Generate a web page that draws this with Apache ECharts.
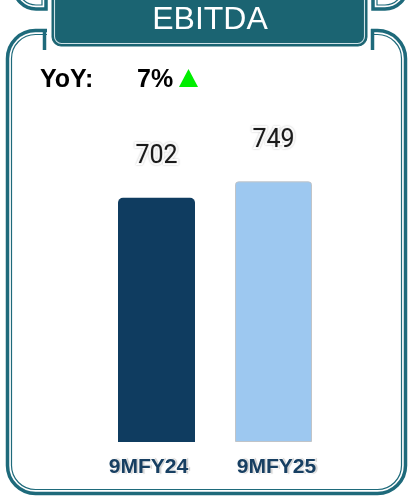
<!DOCTYPE html>
<html>
<head>
<meta charset="utf-8">
<script src="https://cdn.jsdelivr.net/npm/echarts@6/dist/echarts.min.js"></script>
<style>
html,body{margin:0;padding:0;background:#fff;}
#c{width:408px;height:497px;}
</style>
</head>
<body>
<div id="c"></div>
<script>
const title = 'EBITDA';
const yoyLabel = 'YoY:';
const yoyValue = '7%';
const categories = ['9MFY24', '9MFY25'];
const values = [702, 749];
const barColors = ['#0f3c60', '#9dc8f0'];

const TEAL = '#1e6a7b';
const chart = echarts.init(document.getElementById('c'), null, {renderer: 'canvas'});

const graphics = [
  // upper decorations (cut off)
  {type:'rect', shape:{x:14, y:-50, width:32, height:59, r:[0,0,0,22]}, style:{fill:null, stroke:TEAL, lineWidth:3.5}},
  {type:'rect', shape:{x:18, y:-50, width:24, height:55, r:[0,0,0,18]}, style:{fill:null, stroke:TEAL, lineWidth:1.2}},
  {type:'rect', shape:{x:373, y:-50, width:34, height:59, r:[0,0,22,0]}, style:{fill:null, stroke:TEAL, lineWidth:3.5}},
  {type:'rect', shape:{x:377, y:-50, width:26, height:55, r:[0,0,18,0]}, style:{fill:null, stroke:TEAL, lineWidth:1.2}},
  // main frame
  {type:'rect', shape:{x:7.5, y:30.5, width:398, height:463, r:28}, style:{fill:null, stroke:TEAL, lineWidth:3.5}},
  {type:'rect', shape:{x:11.5, y:34.5, width:390, height:455, r:24}, style:{fill:null, stroke:TEAL, lineWidth:1.2}},
  // cover top edge
  {type:'rect', shape:{x:47, y:24, width:324, height:16}, style:{fill:'#fff'}},
  // stubs
  {type:'line', shape:{x1:44.5, y1:29, x2:44.5, y2:50}, style:{stroke:TEAL, lineWidth:3.5}},
  {type:'line', shape:{x1:372.5, y1:29, x2:372.5, y2:50}, style:{stroke:TEAL, lineWidth:3.5}},
  // title box
  {type:'rect', shape:{x:52, y:-12, width:315, height:58, r:9}, style:{fill:'#1b6472', stroke:'#1b6472', lineWidth:1}},
  {type:'rect', shape:{x:54.5, y:-12, width:310, height:55.5, r:7}, style:{fill:null, stroke:'#cfe2e7', lineWidth:1.1}},
  {type:'text', x:210, y:20, style:{text:title, fill:'#fff', font:'32px "Liberation Sans", Arial, sans-serif', align:'center', verticalAlign:'middle'}},
  // YoY
  {type:'text', x:40, y:80, style:{text:yoyLabel, fill:'#000', font:'bold 25px "Liberation Sans", Arial, sans-serif', align:'left', verticalAlign:'middle'}},
  {type:'text', x:137, y:80, style:{text:yoyValue, fill:'#000', font:'bold 25px "Liberation Sans", Arial, sans-serif', align:'left', verticalAlign:'middle'}},
  {type:'polygon', shape:{points:[[179,87],[198,87],[188.5,69]]}, style:{fill:'#00ee00'}}
];

chart.setOption({
  animation: false,
  grid: {left: 98, width: 234, top: 94, bottom: 55},
  xAxis: {
    type: 'category',
    data: categories.map((c, i) => ({value: c, textStyle: {padding: i === 0 ? [0, 16, 0, 0] : [0, 0, 0, 6]}})),
    axisLine: {show: false},
    axisTick: {show: false},
    axisLabel: {
      margin: 15,
      fontSize: 21,
      fontWeight: 'bold',
      fontFamily: '"Liberation Sans", Arial, sans-serif',
      color: '#173f62',
      textBorderColor: '#fff',
      textBorderWidth: 2,
      textShadowColor: 'rgba(0,0,0,0.2)',
      textShadowOffsetX: 1,
      textShadowOffsetY: 0,
      textShadowBlur: 1
    }
  },
  yAxis: {type: 'value', min: 0, max: 1000, show: false},
  series: [{
    type: 'bar',
    barWidth: 77,
    data: values.map((v, i) => ({
      value: v,
      itemStyle: i === 0
        ? {color: barColors[i], borderRadius: [5, 5, 0, 0]}
        : {color: barColors[i], borderRadius: [3, 3, 0, 0], borderColor: '#c0c4c8', borderWidth: 1}
    })),
    label: {
      show: true,
      position: 'top',
      distance: 28,
      fontSize: 25,
      fontFamily: 'Roboto, sans-serif',
      color: '#1a1a1a',
      textBorderColor: '#fff',
      textBorderWidth: 4,
      textShadowColor: 'rgba(0,0,0,0.25)',
      textShadowBlur: 2
    }
  }],
  graphic: graphics
});
</script>
</body>
</html>
